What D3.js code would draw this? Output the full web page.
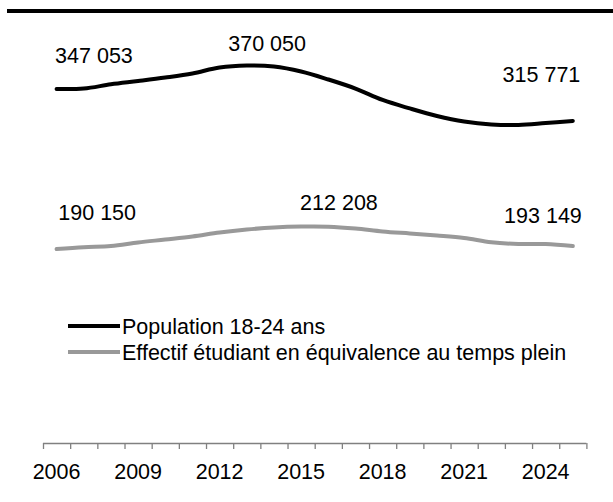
<!DOCTYPE html>
<html>
<head>
<meta charset="utf-8">
<script src="https://cdn.jsdelivr.net/npm/d3@7"></script>
<style>
  html, body { margin: 0; padding: 0; background: #fff; }
  svg { display: block; font-family: "Liberation Sans", Arial, sans-serif; }
</style>
</head>
<body>
<svg id="chart" width="613" height="502"></svg>
<script>
// Years shown on the category axis
const years = d3.range(2006, 2026);
const yearLabels = ["2006", "2009", "2012", "2015", "2018", "2021", "2024"];

// Population aged 18-24
const population = [347053, 347500, 351700, 354900, 358300, 362300, 368100, 370050, 369100, 364200,
                    356400, 347500, 336300, 328000, 320600, 315200, 312300, 311800, 313700, 315771];

// Full-time-equivalent student headcount
const students = [190150, 192000, 193100, 196600, 199500, 202500, 206400, 209300, 211300, 212208,
                  212100, 210300, 207400, 205400, 203400, 201000, 196800, 195100, 195000, 193149];

const seriesNames = ["Population 18-24 ans", "Effectif étudiant en équivalence au temps plein"];
const seriesColors = ["#000000", "#999999"];

const FONT = 21.5;
const svg = d3.select("#chart");
const plotLeft = 43, plotRight = 586.4, plotTop = 35, plotBottom = 443;

const x = d3.scaleBand().domain(years).range([plotLeft, plotRight]).padding(0);
const xEdge = d3.scaleLinear().domain([0, years.length]).range([plotLeft, plotRight]);
const y = d3.scaleLinear().domain([0, 400000]).range([plotBottom, plotTop]);

// heavy rule across the top
svg.append("rect").attr("x", 7).attr("y", 9).attr("width", 606).attr("height", 4).attr("fill", "#000");

const cx = d => x(d) + x.bandwidth() / 2;
const line = d3.line()
  .x((d, i) => cx(years[i]))
  .y(d => y(d))
  .curve(d3.curveCatmullRom.alpha(0.5));

[population, students].forEach((vals, k) => {
  svg.append("path")
    .datum(vals)
    .attr("d", line)
    .attr("fill", "none")
    .attr("stroke", seriesColors[k])
    .attr("stroke-width", 4)
    .attr("stroke-linecap", "round")
    .attr("stroke-linejoin", "round");
});

// value labels at the start, peak and end of each series
const fmt = v => d3.format(",")(v).replace(/,/g, " ");
const labelSpecs = [
  { vals: population, i: 0, dx: -1.5, dy: -26.5, anchor: "start" },
  { vals: population, i: 7, dx: -18.5, dy: -14.5, anchor: "start" },
  { vals: population, i: 19, dx: 7.5, dy: -39.4, anchor: "end" },
  { vals: students, i: 0, dx: 1.7, dy: -29, anchor: "start" },
  { vals: students, i: 9, dx: -1, dy: -16.5, anchor: "start" },
  { vals: students, i: 19, dx: 9, dy: -23, anchor: "end" }
];
svg.append("g").selectAll("text")
  .data(labelSpecs)
  .join("text")
  .attr("x", d => cx(years[d.i]) + d.dx)
  .attr("y", d => y(d.vals[d.i]) + d.dy)
  .attr("text-anchor", d => d.anchor)
  .attr("font-size", FONT)
  .attr("fill", "#000")
  .text(d => fmt(d.vals[d.i]));

// legend
const legend = svg.append("g");
seriesNames.forEach((name, k) => {
  const ly = 326 + k * 26;
  legend.append("line")
    .attr("x1", 68).attr("x2", 120).attr("y1", ly).attr("y2", ly)
    .attr("stroke", seriesColors[k]).attr("stroke-width", 4);
  legend.append("text")
    .attr("x", 122).attr("y", ly + 7.5)
    .attr("font-size", FONT)
    .attr("fill", "#000")
    .text(name);
});

// category axis: tick marks on band edges, labels every third year
const tickAxis = d3.axisBottom(xEdge)
  .tickValues(d3.range(0, years.length + 1))
  .tickSize(6)
  .tickFormat("");
const gTicks = svg.append("g").attr("transform", `translate(0,${plotBottom})`).call(tickAxis);
gTicks.select(".domain").attr("stroke", "#808080").attr("stroke-width", 1.3).attr("d", `M${plotLeft},0.5H${plotRight}`);
gTicks.selectAll(".tick line").attr("stroke", "#808080").attr("stroke-width", 1.3);

const labelAxis = d3.axisBottom(x)
  .tickValues(yearLabels.map(Number))
  .tickSize(0)
  .tickPadding(0)
  .tickFormat(d => String(d));
const gLabels = svg.append("g").attr("transform", `translate(0,${plotBottom})`).call(labelAxis);
gLabels.select(".domain").remove();
gLabels.selectAll(".tick text")
  .attr("font-size", FONT)
  .attr("font-family", "Liberation Sans, Arial, sans-serif")
  .attr("fill", "#000")
  .attr("dy", null)
  .attr("y", 36);
</script>
</body>
</html>
